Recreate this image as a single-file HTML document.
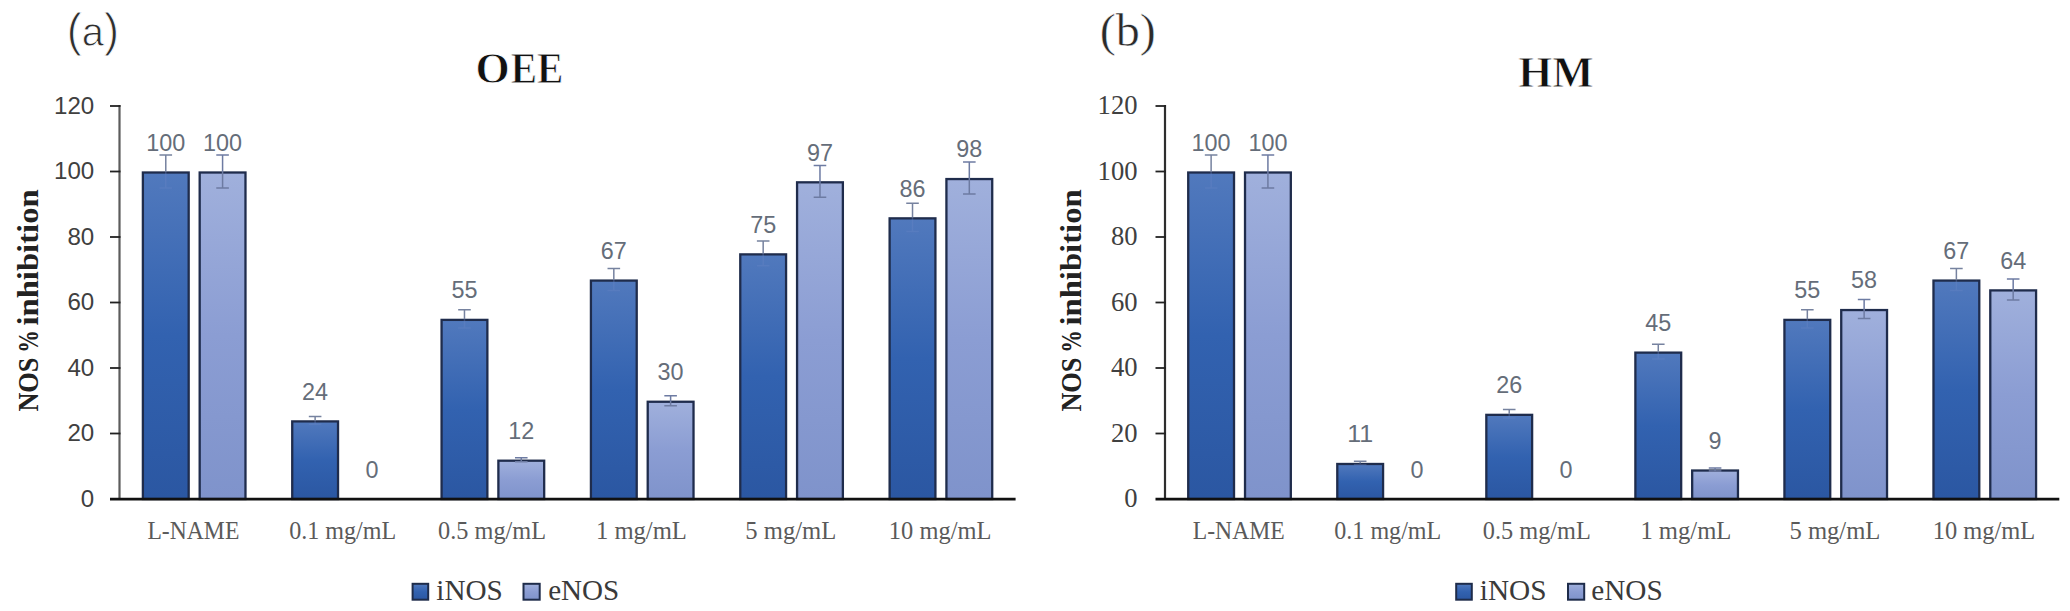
<!DOCTYPE html>
<html lang="en"><head><meta charset="utf-8"><title>NOS % inhibition</title>
<style>html,body{margin:0;padding:0;background:#fff}svg{display:block}</style></head>
<body>
<svg width="2070" height="611" viewBox="0 0 2070 611">
<defs>
<linearGradient id="gi" x1="0" y1="0" x2="0" y2="1"><stop offset="0" stop-color="#5179bd"/><stop offset="0.5" stop-color="#3262b0"/><stop offset="1" stop-color="#2b57a2"/></linearGradient>
<linearGradient id="ge" x1="0" y1="0" x2="0" y2="1"><stop offset="0" stop-color="#a0b0dc"/><stop offset="0.5" stop-color="#8b9dd3"/><stop offset="1" stop-color="#7f93cb"/></linearGradient>
</defs>
<rect width="2070" height="611" fill="#ffffff"/>
<text x="66.7" y="45.8" font-family='"Liberation Sans", sans-serif' font-size="46" fill="#2e2e2e" stroke="#ffffff" stroke-width="0.9" textLength="52.3" lengthAdjust="spacingAndGlyphs">(<tspan font-size="40.5" dy="0.6">a</tspan><tspan dy="-0.6">)</tspan></text>
<text x="475.5" y="83.0" font-family='"Liberation Serif", serif' font-size="44" font-weight="bold" fill="#111111" stroke="#ffffff" stroke-width="0.8">O<tspan x="510.8" textLength="52.5" lengthAdjust="spacingAndGlyphs">EE</tspan></text>
<g transform="translate(38,300.6) rotate(-90)">
<text y="0" font-family='"Liberation Serif", serif' font-size="29" font-weight="bold" fill="#222222"><tspan x="-111" textLength="54" lengthAdjust="spacingAndGlyphs">NOS</tspan> <tspan x="-52.2" textLength="22.5" lengthAdjust="spacingAndGlyphs">%</tspan> <tspan x="-25" textLength="136.3" lengthAdjust="spacingAndGlyphs">inhibition</tspan></text>
</g>
<rect x="142.88" y="172.50" width="45.80" height="326.50" fill="url(#gi)" stroke="#1f2c4c" stroke-width="2.3"/>
<path d="M165.78 171.50V187.88M159.47 187.88H172.08" stroke="#6a88c6" stroke-opacity="0.35" stroke-width="1.5" fill="none"/>
<path d="M165.78 155.12V171.50M159.47 155.12H172.08" stroke="#76829f" stroke-width="1.5" fill="none"/>
<text x="165.78" y="150.90" font-family='"Liberation Sans", sans-serif' font-size="23" fill="#656d79" text-anchor="middle" textLength="39.00" lengthAdjust="spacingAndGlyphs">100</text>
<rect x="199.68" y="172.50" width="45.80" height="326.50" fill="url(#ge)" stroke="#1f2c4c" stroke-width="2.3"/>
<path d="M222.58 155.12V187.88M216.28 155.12H228.88M216.28 187.88H228.88" stroke="#6d7ba2" stroke-width="1.5" fill="none"/>
<text x="222.58" y="150.90" font-family='"Liberation Sans", sans-serif' font-size="23" fill="#656d79" text-anchor="middle" textLength="39.00" lengthAdjust="spacingAndGlyphs">100</text>
<text x="193.38" y="539.20" font-family='"Liberation Serif", serif' font-size="25" fill="#5a5a5a" text-anchor="middle" textLength="92.00" lengthAdjust="spacingAndGlyphs">L-NAME</text>
<rect x="292.23" y="421.40" width="45.80" height="77.60" fill="url(#gi)" stroke="#1f2c4c" stroke-width="2.3"/>
<path d="M315.12 420.40V424.33M308.82 424.33H321.43" stroke="#6a88c6" stroke-opacity="0.35" stroke-width="1.5" fill="none"/>
<path d="M315.12 416.47V420.40M308.82 416.47H321.43" stroke="#76829f" stroke-width="1.5" fill="none"/>
<text x="315.12" y="399.80" font-family='"Liberation Sans", sans-serif' font-size="23" fill="#656d79" text-anchor="middle" textLength="26.00" lengthAdjust="spacingAndGlyphs">24</text>
<text x="371.93" y="478.40" font-family='"Liberation Sans", sans-serif' font-size="23" fill="#656d79" text-anchor="middle" textLength="13.00" lengthAdjust="spacingAndGlyphs">0</text>
<text x="342.73" y="539.20" font-family='"Liberation Serif", serif' font-size="25" fill="#5a5a5a" text-anchor="middle" textLength="107.00" lengthAdjust="spacingAndGlyphs">0.1 mg/mL</text>
<rect x="441.57" y="319.88" width="45.80" height="179.12" fill="url(#gi)" stroke="#1f2c4c" stroke-width="2.3"/>
<path d="M464.47 318.88V327.88M458.17 327.88H470.77" stroke="#6a88c6" stroke-opacity="0.35" stroke-width="1.5" fill="none"/>
<path d="M464.47 309.87V318.88M458.17 309.87H470.77" stroke="#76829f" stroke-width="1.5" fill="none"/>
<text x="464.47" y="298.27" font-family='"Liberation Sans", sans-serif' font-size="23" fill="#656d79" text-anchor="middle" textLength="26.00" lengthAdjust="spacingAndGlyphs">55</text>
<rect x="498.38" y="460.70" width="45.80" height="38.30" fill="url(#ge)" stroke="#1f2c4c" stroke-width="2.3"/>
<path d="M521.27 457.74V461.67M514.98 457.74H527.57M514.98 461.67H527.57" stroke="#6d7ba2" stroke-width="1.5" fill="none"/>
<text x="521.27" y="439.10" font-family='"Liberation Sans", sans-serif' font-size="23" fill="#656d79" text-anchor="middle" textLength="26.00" lengthAdjust="spacingAndGlyphs">12</text>
<text x="492.07" y="539.20" font-family='"Liberation Serif", serif' font-size="25" fill="#5a5a5a" text-anchor="middle" textLength="108.00" lengthAdjust="spacingAndGlyphs">0.5 mg/mL</text>
<rect x="590.92" y="280.58" width="45.80" height="218.42" fill="url(#gi)" stroke="#1f2c4c" stroke-width="2.3"/>
<path d="M613.82 279.58V290.55M607.52 290.55H620.12" stroke="#6a88c6" stroke-opacity="0.35" stroke-width="1.5" fill="none"/>
<path d="M613.82 268.60V279.58M607.52 268.60H620.12" stroke="#76829f" stroke-width="1.5" fill="none"/>
<text x="613.82" y="258.98" font-family='"Liberation Sans", sans-serif' font-size="23" fill="#656d79" text-anchor="middle" textLength="26.00" lengthAdjust="spacingAndGlyphs">67</text>
<rect x="647.72" y="401.75" width="45.80" height="97.25" fill="url(#ge)" stroke="#1f2c4c" stroke-width="2.3"/>
<path d="M670.62 395.84V405.66M664.32 395.84H676.92M664.32 405.66H676.92" stroke="#6d7ba2" stroke-width="1.5" fill="none"/>
<text x="670.62" y="380.15" font-family='"Liberation Sans", sans-serif' font-size="23" fill="#656d79" text-anchor="middle" textLength="26.00" lengthAdjust="spacingAndGlyphs">30</text>
<text x="641.42" y="539.20" font-family='"Liberation Serif", serif' font-size="25" fill="#5a5a5a" text-anchor="middle" textLength="91.00" lengthAdjust="spacingAndGlyphs">1 mg/mL</text>
<rect x="740.27" y="254.38" width="45.80" height="244.62" fill="url(#gi)" stroke="#1f2c4c" stroke-width="2.3"/>
<path d="M763.17 253.38V265.66M756.88 265.66H769.47" stroke="#6a88c6" stroke-opacity="0.35" stroke-width="1.5" fill="none"/>
<path d="M763.17 241.09V253.38M756.88 241.09H769.47" stroke="#76829f" stroke-width="1.5" fill="none"/>
<text x="763.17" y="232.78" font-family='"Liberation Sans", sans-serif' font-size="23" fill="#656d79" text-anchor="middle" textLength="26.00" lengthAdjust="spacingAndGlyphs">75</text>
<rect x="797.07" y="182.32" width="45.80" height="316.68" fill="url(#ge)" stroke="#1f2c4c" stroke-width="2.3"/>
<path d="M819.97 165.44V197.21M813.67 165.44H826.27M813.67 197.21H826.27" stroke="#6d7ba2" stroke-width="1.5" fill="none"/>
<text x="819.97" y="160.72" font-family='"Liberation Sans", sans-serif' font-size="23" fill="#656d79" text-anchor="middle" textLength="26.00" lengthAdjust="spacingAndGlyphs">97</text>
<text x="790.77" y="539.20" font-family='"Liberation Serif", serif' font-size="25" fill="#5a5a5a" text-anchor="middle" textLength="91.00" lengthAdjust="spacingAndGlyphs">5 mg/mL</text>
<rect x="889.62" y="218.35" width="45.80" height="280.65" fill="url(#gi)" stroke="#1f2c4c" stroke-width="2.3"/>
<path d="M912.52 217.35V231.43M906.23 231.43H918.82" stroke="#6a88c6" stroke-opacity="0.35" stroke-width="1.5" fill="none"/>
<path d="M912.52 203.27V217.35M906.23 203.27H918.82" stroke="#76829f" stroke-width="1.5" fill="none"/>
<text x="912.52" y="196.75" font-family='"Liberation Sans", sans-serif' font-size="23" fill="#656d79" text-anchor="middle" textLength="26.00" lengthAdjust="spacingAndGlyphs">86</text>
<rect x="946.42" y="179.05" width="45.80" height="319.95" fill="url(#ge)" stroke="#1f2c4c" stroke-width="2.3"/>
<path d="M969.32 162.00V194.10M963.02 162.00H975.62M963.02 194.10H975.62" stroke="#6d7ba2" stroke-width="1.5" fill="none"/>
<text x="969.32" y="157.45" font-family='"Liberation Sans", sans-serif' font-size="23" fill="#656d79" text-anchor="middle" textLength="26.00" lengthAdjust="spacingAndGlyphs">98</text>
<text x="940.12" y="539.20" font-family='"Liberation Serif", serif' font-size="25" fill="#5a5a5a" text-anchor="middle" textLength="102.50" lengthAdjust="spacingAndGlyphs">10 mg/mL</text>
<path d="M119.50 105.00V500.00" stroke="#5c5c5c" stroke-width="2.2" fill="none"/>
<path d="M110.00 499.15H1015.60" stroke="#111111" stroke-width="2.6" fill="none"/>
<text x="94.20" y="506.80" font-family='"Liberation Sans", sans-serif' font-size="23.5" fill="#404040" text-anchor="end" textLength="13.40" lengthAdjust="spacingAndGlyphs">0</text>
<path d="M110.00 433.50H120.50" stroke="#222222" stroke-width="1.8" fill="none"/>
<text x="94.20" y="441.30" font-family='"Liberation Sans", sans-serif' font-size="23.5" fill="#404040" text-anchor="end" textLength="26.80" lengthAdjust="spacingAndGlyphs">20</text>
<path d="M110.00 368.00H120.50" stroke="#222222" stroke-width="1.8" fill="none"/>
<text x="94.20" y="375.80" font-family='"Liberation Sans", sans-serif' font-size="23.5" fill="#404040" text-anchor="end" textLength="26.80" lengthAdjust="spacingAndGlyphs">40</text>
<path d="M110.00 302.50H120.50" stroke="#222222" stroke-width="1.8" fill="none"/>
<text x="94.20" y="310.30" font-family='"Liberation Sans", sans-serif' font-size="23.5" fill="#404040" text-anchor="end" textLength="26.80" lengthAdjust="spacingAndGlyphs">60</text>
<path d="M110.00 237.00H120.50" stroke="#222222" stroke-width="1.8" fill="none"/>
<text x="94.20" y="244.80" font-family='"Liberation Sans", sans-serif' font-size="23.5" fill="#404040" text-anchor="end" textLength="26.80" lengthAdjust="spacingAndGlyphs">80</text>
<path d="M110.00 171.50H120.50" stroke="#222222" stroke-width="1.8" fill="none"/>
<text x="94.20" y="179.30" font-family='"Liberation Sans", sans-serif' font-size="23.5" fill="#404040" text-anchor="end" textLength="40.20" lengthAdjust="spacingAndGlyphs">100</text>
<path d="M110.00 106.00H120.50" stroke="#222222" stroke-width="1.8" fill="none"/>
<text x="94.20" y="113.80" font-family='"Liberation Sans", sans-serif' font-size="23.5" fill="#404040" text-anchor="end" textLength="40.20" lengthAdjust="spacingAndGlyphs">120</text>
<rect x="412.60" y="583.8" width="15.6" height="15.9" fill="url(#gi)" stroke="#1e2c4a" stroke-width="2"/>
<text x="436.30" y="600.30" font-family='"Liberation Serif", serif' font-size="29" fill="#3a3a3a" text-anchor="start" textLength="66.50" lengthAdjust="spacingAndGlyphs">iNOS</text>
<rect x="523.50" y="583.8" width="16.2" height="15.9" fill="url(#ge)" stroke="#1e2c4a" stroke-width="2"/>
<text x="548.20" y="600.30" font-family='"Liberation Serif", serif' font-size="29" fill="#3a3a3a" text-anchor="start" textLength="71.10" lengthAdjust="spacingAndGlyphs">eNOS</text>
<text x="1099.70" y="46.40" font-family='"Liberation Serif", serif' font-size="47" fill="#2a2a2a" text-anchor="start" textLength="56.20" lengthAdjust="spacingAndGlyphs" stroke="#ffffff" stroke-width="0.5">(b)</text>
<text x="1556.00" y="86.60" font-family='"Liberation Serif", serif' font-size="44" fill="#111111" text-anchor="middle" font-weight="bold" textLength="75.40" lengthAdjust="spacingAndGlyphs" stroke="#ffffff" stroke-width="0.8">HM</text>
<g transform="translate(1080.5,300.6) rotate(-90)">
<text y="0" font-family='"Liberation Serif", serif' font-size="29" font-weight="bold" fill="#222222"><tspan x="-111" textLength="54" lengthAdjust="spacingAndGlyphs">NOS</tspan> <tspan x="-52.2" textLength="22.5" lengthAdjust="spacingAndGlyphs">%</tspan> <tspan x="-25" textLength="136.3" lengthAdjust="spacingAndGlyphs">inhibition</tspan></text>
</g>
<rect x="1188.22" y="172.50" width="45.80" height="326.50" fill="url(#gi)" stroke="#1f2c4c" stroke-width="2.3"/>
<path d="M1211.12 171.50V187.88M1204.83 187.88H1217.42" stroke="#6a88c6" stroke-opacity="0.35" stroke-width="1.5" fill="none"/>
<path d="M1211.12 155.12V171.50M1204.83 155.12H1217.42" stroke="#76829f" stroke-width="1.5" fill="none"/>
<text x="1211.12" y="150.90" font-family='"Liberation Sans", sans-serif' font-size="23" fill="#656d79" text-anchor="middle" textLength="39.00" lengthAdjust="spacingAndGlyphs">100</text>
<rect x="1245.02" y="172.50" width="45.80" height="326.50" fill="url(#ge)" stroke="#1f2c4c" stroke-width="2.3"/>
<path d="M1267.92 155.12V187.88M1261.62 155.12H1274.22M1261.62 187.88H1274.22" stroke="#6d7ba2" stroke-width="1.5" fill="none"/>
<text x="1267.92" y="150.90" font-family='"Liberation Sans", sans-serif' font-size="23" fill="#656d79" text-anchor="middle" textLength="39.00" lengthAdjust="spacingAndGlyphs">100</text>
<text x="1238.73" y="539.20" font-family='"Liberation Serif", serif' font-size="25" fill="#5a5a5a" text-anchor="middle" textLength="92.00" lengthAdjust="spacingAndGlyphs">L-NAME</text>
<rect x="1337.28" y="463.98" width="45.80" height="35.02" fill="url(#gi)" stroke="#1f2c4c" stroke-width="2.3"/>
<path d="M1360.18 462.98V464.78M1353.88 464.78H1366.48" stroke="#6a88c6" stroke-opacity="0.35" stroke-width="1.5" fill="none"/>
<path d="M1360.18 461.17V462.98M1353.88 461.17H1366.48" stroke="#76829f" stroke-width="1.5" fill="none"/>
<text x="1360.18" y="442.38" font-family='"Liberation Sans", sans-serif' font-size="23" fill="#656d79" text-anchor="middle" textLength="26.00" lengthAdjust="spacingAndGlyphs">11</text>
<text x="1416.98" y="478.40" font-family='"Liberation Sans", sans-serif' font-size="23" fill="#656d79" text-anchor="middle" textLength="13.00" lengthAdjust="spacingAndGlyphs">0</text>
<text x="1387.78" y="539.20" font-family='"Liberation Serif", serif' font-size="25" fill="#5a5a5a" text-anchor="middle" textLength="107.00" lengthAdjust="spacingAndGlyphs">0.1 mg/mL</text>
<rect x="1486.33" y="414.85" width="45.80" height="84.15" fill="url(#gi)" stroke="#1f2c4c" stroke-width="2.3"/>
<path d="M1509.23 413.85V418.11M1502.93 418.11H1515.53" stroke="#6a88c6" stroke-opacity="0.35" stroke-width="1.5" fill="none"/>
<path d="M1509.23 409.59V413.85M1502.93 409.59H1515.53" stroke="#76829f" stroke-width="1.5" fill="none"/>
<text x="1509.23" y="393.25" font-family='"Liberation Sans", sans-serif' font-size="23" fill="#656d79" text-anchor="middle" textLength="26.00" lengthAdjust="spacingAndGlyphs">26</text>
<text x="1566.03" y="478.40" font-family='"Liberation Sans", sans-serif' font-size="23" fill="#656d79" text-anchor="middle" textLength="13.00" lengthAdjust="spacingAndGlyphs">0</text>
<text x="1536.83" y="539.20" font-family='"Liberation Serif", serif' font-size="25" fill="#5a5a5a" text-anchor="middle" textLength="108.00" lengthAdjust="spacingAndGlyphs">0.5 mg/mL</text>
<rect x="1635.38" y="352.62" width="45.80" height="146.38" fill="url(#gi)" stroke="#1f2c4c" stroke-width="2.3"/>
<path d="M1658.28 351.62V358.99M1651.98 358.99H1664.58" stroke="#6a88c6" stroke-opacity="0.35" stroke-width="1.5" fill="none"/>
<path d="M1658.28 344.26V351.62M1651.98 344.26H1664.58" stroke="#76829f" stroke-width="1.5" fill="none"/>
<text x="1658.28" y="331.02" font-family='"Liberation Sans", sans-serif' font-size="23" fill="#656d79" text-anchor="middle" textLength="26.00" lengthAdjust="spacingAndGlyphs">45</text>
<rect x="1692.17" y="470.52" width="45.80" height="28.48" fill="url(#ge)" stroke="#1f2c4c" stroke-width="2.3"/>
<path d="M1715.08 468.05V471.00M1708.78 468.05H1721.38M1708.78 471.00H1721.38" stroke="#6d7ba2" stroke-width="1.5" fill="none"/>
<text x="1715.08" y="448.92" font-family='"Liberation Sans", sans-serif' font-size="23" fill="#656d79" text-anchor="middle" textLength="13.00" lengthAdjust="spacingAndGlyphs">9</text>
<text x="1685.88" y="539.20" font-family='"Liberation Serif", serif' font-size="25" fill="#5a5a5a" text-anchor="middle" textLength="91.00" lengthAdjust="spacingAndGlyphs">1 mg/mL</text>
<rect x="1784.43" y="319.88" width="45.80" height="179.12" fill="url(#gi)" stroke="#1f2c4c" stroke-width="2.3"/>
<path d="M1807.33 318.88V327.88M1801.03 327.88H1813.63" stroke="#6a88c6" stroke-opacity="0.35" stroke-width="1.5" fill="none"/>
<path d="M1807.33 309.87V318.88M1801.03 309.87H1813.63" stroke="#76829f" stroke-width="1.5" fill="none"/>
<text x="1807.33" y="298.27" font-family='"Liberation Sans", sans-serif' font-size="23" fill="#656d79" text-anchor="middle" textLength="26.00" lengthAdjust="spacingAndGlyphs">55</text>
<rect x="1841.23" y="310.05" width="45.80" height="188.95" fill="url(#ge)" stroke="#1f2c4c" stroke-width="2.3"/>
<path d="M1864.13 299.55V318.55M1857.83 299.55H1870.43M1857.83 318.55H1870.43" stroke="#6d7ba2" stroke-width="1.5" fill="none"/>
<text x="1864.13" y="288.45" font-family='"Liberation Sans", sans-serif' font-size="23" fill="#656d79" text-anchor="middle" textLength="26.00" lengthAdjust="spacingAndGlyphs">58</text>
<text x="1834.93" y="539.20" font-family='"Liberation Serif", serif' font-size="25" fill="#5a5a5a" text-anchor="middle" textLength="91.00" lengthAdjust="spacingAndGlyphs">5 mg/mL</text>
<rect x="1933.48" y="280.58" width="45.80" height="218.42" fill="url(#gi)" stroke="#1f2c4c" stroke-width="2.3"/>
<path d="M1956.38 279.58V290.55M1950.08 290.55H1962.68" stroke="#6a88c6" stroke-opacity="0.35" stroke-width="1.5" fill="none"/>
<path d="M1956.38 268.60V279.58M1950.08 268.60H1962.68" stroke="#76829f" stroke-width="1.5" fill="none"/>
<text x="1956.38" y="258.98" font-family='"Liberation Sans", sans-serif' font-size="23" fill="#656d79" text-anchor="middle" textLength="26.00" lengthAdjust="spacingAndGlyphs">67</text>
<rect x="1990.28" y="290.40" width="45.80" height="208.60" fill="url(#ge)" stroke="#1f2c4c" stroke-width="2.3"/>
<path d="M2013.18 278.92V299.88M2006.88 278.92H2019.48M2006.88 299.88H2019.48" stroke="#6d7ba2" stroke-width="1.5" fill="none"/>
<text x="2013.18" y="268.80" font-family='"Liberation Sans", sans-serif' font-size="23" fill="#656d79" text-anchor="middle" textLength="26.00" lengthAdjust="spacingAndGlyphs">64</text>
<text x="1983.98" y="539.20" font-family='"Liberation Serif", serif' font-size="25" fill="#5a5a5a" text-anchor="middle" textLength="102.50" lengthAdjust="spacingAndGlyphs">10 mg/mL</text>
<path d="M1165.00 105.00V500.00" stroke="#2e2e2e" stroke-width="2.2" fill="none"/>
<path d="M1155.50 499.15H2059.30" stroke="#111111" stroke-width="2.6" fill="none"/>
<text x="1137.50" y="507.20" font-family='"Liberation Serif", serif' font-size="26.5" fill="#404040" text-anchor="end" textLength="13.30" lengthAdjust="spacingAndGlyphs">0</text>
<path d="M1155.50 433.50H1166.00" stroke="#222222" stroke-width="1.8" fill="none"/>
<text x="1137.50" y="441.70" font-family='"Liberation Serif", serif' font-size="26.5" fill="#404040" text-anchor="end" textLength="26.60" lengthAdjust="spacingAndGlyphs">20</text>
<path d="M1155.50 368.00H1166.00" stroke="#222222" stroke-width="1.8" fill="none"/>
<text x="1137.50" y="376.20" font-family='"Liberation Serif", serif' font-size="26.5" fill="#404040" text-anchor="end" textLength="26.60" lengthAdjust="spacingAndGlyphs">40</text>
<path d="M1155.50 302.50H1166.00" stroke="#222222" stroke-width="1.8" fill="none"/>
<text x="1137.50" y="310.70" font-family='"Liberation Serif", serif' font-size="26.5" fill="#404040" text-anchor="end" textLength="26.60" lengthAdjust="spacingAndGlyphs">60</text>
<path d="M1155.50 237.00H1166.00" stroke="#222222" stroke-width="1.8" fill="none"/>
<text x="1137.50" y="245.20" font-family='"Liberation Serif", serif' font-size="26.5" fill="#404040" text-anchor="end" textLength="26.60" lengthAdjust="spacingAndGlyphs">80</text>
<path d="M1155.50 171.50H1166.00" stroke="#222222" stroke-width="1.8" fill="none"/>
<text x="1137.50" y="179.70" font-family='"Liberation Serif", serif' font-size="26.5" fill="#404040" text-anchor="end" textLength="39.90" lengthAdjust="spacingAndGlyphs">100</text>
<path d="M1155.50 106.00H1166.00" stroke="#222222" stroke-width="1.8" fill="none"/>
<text x="1137.50" y="114.20" font-family='"Liberation Serif", serif' font-size="26.5" fill="#404040" text-anchor="end" textLength="39.90" lengthAdjust="spacingAndGlyphs">120</text>
<rect x="1456.20" y="583.8" width="15.6" height="15.9" fill="url(#gi)" stroke="#1e2c4a" stroke-width="2"/>
<text x="1479.80" y="600.30" font-family='"Liberation Serif", serif' font-size="29" fill="#3a3a3a" text-anchor="start" textLength="66.80" lengthAdjust="spacingAndGlyphs">iNOS</text>
<rect x="1568.00" y="583.8" width="16.2" height="15.9" fill="url(#ge)" stroke="#1e2c4a" stroke-width="2"/>
<text x="1591.20" y="600.30" font-family='"Liberation Serif", serif' font-size="29" fill="#3a3a3a" text-anchor="start" textLength="71.50" lengthAdjust="spacingAndGlyphs">eNOS</text>
</svg>
</body></html>
